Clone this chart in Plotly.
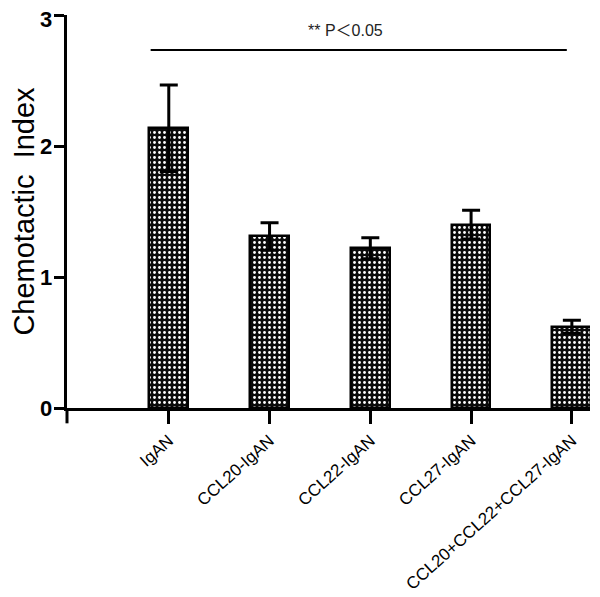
import plotly.graph_objects as go

categories = ["IgAN", "CCL20-IgAN", "CCL22-IgAN", "CCL27-IgAN", "CCL20+CCL22+CCL27-IgAN"]
values = [2.135, 1.31, 1.22, 1.40, 0.62]
errors = [0.33, 0.105, 0.08, 0.11, 0.05]
y_ticks = [0, 1, 2, 3]
sig_text = "** P＜0.05"
sig_y = 2.733
sig_x0, sig_x1 = -0.18, 3.95

fig = go.Figure()
fig.add_trace(go.Bar(
    x=list(range(len(categories))), y=values,
    width=0.385,
    marker=dict(
        color="black",
        line=dict(color="black", width=2.5),
        pattern=dict(shape=".", fillmode="replace", bgcolor="#0a0a0a", fgcolor="white", size=5, solidity=0.25),
    ),
    error_y=dict(type="data", array=errors, visible=True, color="black", thickness=3, width=9),
))

fig.add_shape(type="line", xref="x", yref="y", x0=sig_x0, x1=sig_x1, y0=sig_y, y1=sig_y,
              line=dict(color="black", width=2))
fig.add_shape(type="line", xref="paper", yref="paper", x0=0, x1=0, y0=0, y1=-0.039,
              line=dict(color="black", width=3))
fig.add_annotation(x=(sig_x0 + sig_x1) / 2 - 0.13, y=sig_y, yref="y", xref="x", text=sig_text,
                   showarrow=False, yanchor="bottom", yshift=9,
                   font=dict(family="Liberation Sans, Noto Sans CJK SC", size=16, color="#222"))
for t in y_ticks:
    fig.add_annotation(x=0, xref="paper", y=t, yref="y", text=f"<b>{t}</b>", showarrow=False,
                       xanchor="right", yanchor="middle", xshift=-13, yshift=(-4 if t == 3 else 0),
                       font=dict(size=22, color="black"))

fig.update_layout(
    width=592, height=589,
    margin=dict(l=59, r=10, t=7, b=189, autoexpand=False),
    paper_bgcolor="white", plot_bgcolor="white",
    showlegend=False,
    font=dict(family="Liberation Sans, Arial", color="black"),
    bargap=0,
)
fig.update_xaxes(
    range=[-1.01, 4.18], tickmode="array", tickvals=list(range(len(categories))), ticktext=categories,
    tickangle=-42, tickfont=dict(size=17), showline=True, linecolor="black", linewidth=3,
    ticks="outside", ticklen=13, tickwidth=3, tickcolor="black", showgrid=False, zeroline=False,
    automargin=False,
)
fig.update_yaxes(
    range=[0, 3], tickvals=y_ticks, showticklabels=False,
    showline=True, linecolor="black", linewidth=3, ticks="outside", ticklen=10, tickwidth=3,
    tickcolor="black", showgrid=False, zeroline=False, automargin=False,
    title=dict(text="Chemotactic  Index", font=dict(size=29), standoff=32),
)

fig.write_html("out.html")
